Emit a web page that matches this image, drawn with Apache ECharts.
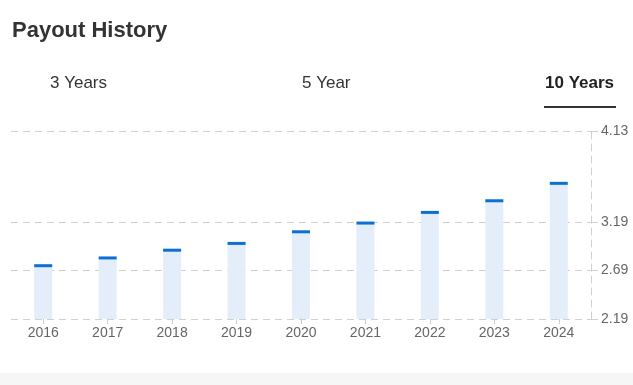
<!DOCTYPE html>
<html>
<head>
<meta charset="utf-8">
<script src="https://cdn.jsdelivr.net/npm/echarts@6/dist/echarts.min.js"></script>
<style>
html,body{margin:0;padding:0;background:#fff;}
#c{width:633px;height:385px;}
</style>
</head>
<body>
<div id="c"></div>
<script>
var years = ['2016','2017','2018','2019','2020','2021','2022','2023','2024'];
var payouts = [2.74, 2.82, 2.90, 2.97, 3.09, 3.18, 3.29, 3.41, 3.59];
var yTicks = [2.19, 2.69, 3.19, 4.13];
var yMin = 2.19, yMax = 4.13;
var tabs = ['3 Years', '5 Year', '10 Years'];

var chart = echarts.init(document.getElementById('c'), null, {renderer:'canvas'});
var font = 'Liberation Sans, Arial, sans-serif';
var dash = [7,5];
chart.setOption({
  animation:false,
  textStyle:{fontFamily:font},
  grid:{left:11, right:42, top:131, bottom:66, containLabel:false},
  graphic:[
    {type:'text', left:12, top:20, style:{text:'Payout History', font:'bold 22px '+font, fill:'#333'}},
    {type:'text', left:50, top:75, style:{text:tabs[0], font:'17px '+font, fill:'#333'}},
    {type:'text', left:302, top:75, style:{text:tabs[1], font:'17px '+font, fill:'#333'}},
    {type:'text', left:545, top:75, style:{text:tabs[2], font:'bold 17px '+font, fill:'#222'}},
    {type:'rect', shape:{x:544, y:106, width:72, height:2}, style:{fill:'#333'}},
    {type:'rect', shape:{x:0, y:373, width:633, height:12}, style:{fill:'#f6f6f6'}}
  ],
  xAxis:{
    type:'category', data:years,
    axisLine:{show:false},
    axisTick:{show:true, alignWithLabel:true, length:5, lineStyle:{color:'#ccc'}},
    axisLabel:{color:'#666', fontSize:14, margin:7, fontFamily:font}
  },
  yAxis:{
    type:'value', position:'right', min:yMin, max:yMax,
    axisLine:{show:true, lineStyle:{color:'#d0d0d0', type:dash}},
    axisTick:{show:true, length:7, lineStyle:{color:'#d0d0d0'}, customValues:yTicks},
    axisLabel:{color:'#666', fontSize:14, margin:10, fontFamily:font, customValues:yTicks,
      formatter:function(v){return v.toFixed(2);}},
    splitLine:{show:true, lineStyle:{color:'#d0d0d0', type:dash}}
  },
  series:[
    {type:'bar', data:payouts, barWidth:18, itemStyle:{color:'#e4eefb'}, z:2},
    {type:'scatter', data:payouts, symbol:'rect', symbolSize:[18,3], itemStyle:{color:'#0b6fd3', opacity:1}, z:3}
  ]
});
</script>
</body>
</html>
